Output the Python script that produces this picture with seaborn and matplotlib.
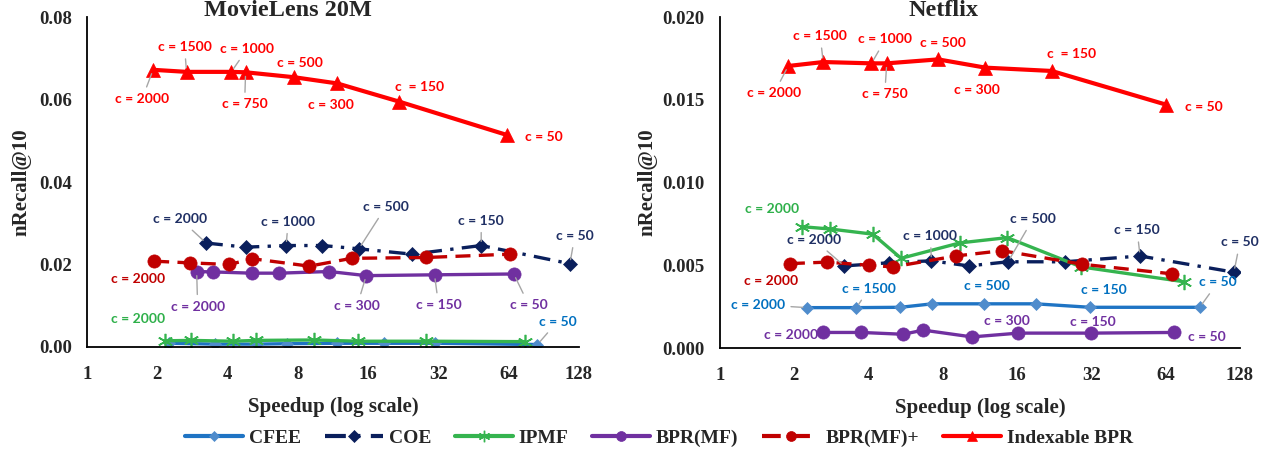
import matplotlib
matplotlib.use("Agg")
import matplotlib.pyplot as plt
import seaborn as sns
from matplotlib.lines import Line2D
from matplotlib.ticker import FixedLocator, FixedFormatter, NullLocator

methods = ["CFEE", "COE", "IPMF", "BPR(MF)", "BPR(MF)+", "Indexable BPR"]

# ---- MovieLens 20M (speedup, nRecall@10) ----
ml_cfee_x = [2.25, 3.54, 5.35, 7.2, 11.8, 18.8, 31.0, 85.0]
ml_cfee_y = [0.0009, 0.0007, 0.0007, 0.0008, 0.0009, 0.0009, 0.0009, 0.0006]
ml_coe_x = [3.24, 4.78, 7.13, 10.2, 14.6, 24.7, 48.8, 117.0]
ml_coe_y = [0.0252, 0.0242, 0.0246, 0.0246, 0.0238, 0.0225, 0.0246, 0.0202]
ml_ipmf_x = [2.16, 2.79, 4.23, 5.3, 9.4, 14.5, 28.4, 74.8]
ml_ipmf_y = [0.0015, 0.0016, 0.0014, 0.0016, 0.0017, 0.0014, 0.0014, 0.0013]
ml_bpr_x = [2.95, 3.47, 5.07, 6.66, 10.9, 15.7, 30.8, 67.3]
ml_bpr_y = [0.0183, 0.0182, 0.0179, 0.0179, 0.0183, 0.0173, 0.0175, 0.0177]
ml_bprp_x = [1.94, 2.75, 4.07, 5.11, 8.96, 13.6, 28.4, 64.7]
ml_bprp_y = [0.0208, 0.0204, 0.0200, 0.0214, 0.0196, 0.0215, 0.0217, 0.0225]
ml_ibpr_x = [1.92, 2.67, 4.15, 4.78, 7.72, 11.8, 21.7, 62.9]
ml_ibpr_y = [0.0672, 0.0667, 0.0667, 0.0666, 0.0654, 0.0639, 0.0595, 0.0514]

# ---- Netflix ----
nf_cfee_x = [2.25, 3.57, 5.38, 7.25, 11.8, 19.0, 31.6, 88.0]
nf_cfee_y = [0.00244, 0.00244, 0.00246, 0.00267, 0.00267, 0.00267, 0.00246, 0.00246]
nf_coe_x = [3.19, 4.84, 7.19, 10.2, 14.7, 25.0, 50.4, 121.0]
nf_coe_y = [0.00496, 0.00515, 0.00527, 0.00496, 0.00521, 0.00521, 0.00556, 0.00458]
nf_ipmf_x = [2.15, 2.8, 4.16, 5.42, 9.37, 14.6, 29.1, 76.3]
nf_ipmf_y = [0.00733, 0.00719, 0.00688, 0.00542, 0.00635, 0.00667, 0.0049, 0.0040]
nf_bpr_x = [2.62, 3.74, 5.52, 6.67, 10.5, 16.2, 31.8, 69.5]
nf_bpr_y = [0.00094, 0.00094, 0.00083, 0.00108, 0.00067, 0.0009, 0.0009, 0.00094]
nf_bprp_x = [1.92, 2.71, 4.03, 5.02, 9.02, 13.9, 29.4, 68.1]
nf_bprp_y = [0.0051, 0.00519, 0.0050, 0.0049, 0.00556, 0.00588, 0.00506, 0.00448]
nf_ibpr_x = [1.89, 2.62, 4.11, 4.74, 7.66, 11.9, 22.1, 64.4]
nf_ibpr_y = [0.01704, 0.01728, 0.0172, 0.0172, 0.01744, 0.01694, 0.01674, 0.0147]

x_ticks = [1, 2, 4, 8, 16, 32, 64, 128]
ml_y_ticks = [0.00, 0.02, 0.04, 0.06, 0.08]
nf_y_ticks = [0.000, 0.005, 0.010, 0.015, 0.020]

# line styles per method
styles = {
    "CFEE": dict(color="#1f74c4", marker="D", ms=6.5, mfc="#4f8ccc", lw=2.4, ls="-"),
    "COE": dict(color="#0a1f5c", marker="D", ms=7.5, mfc="#0a1f5c", lw=2.4, ls=(0, (5, 2.5, 1, 2.5))),
    "IPMF": dict(color="#35b44f", marker=(6, 2, 0), ms=11, mfc="#35b44f", lw=2.4, ls="-"),
    "BPR(MF)": dict(color="#7030a0", marker="o", ms=9.5, mfc="#7030a0", lw=2.4, ls="-"),
    "BPR(MF)+": dict(color="#c00000", marker="o", ms=9.5, mfc="#c00000", lw=2.4, ls=(0, (4.5, 2.5))),
    "Indexable BPR": dict(color="#ff0000", marker="^", ms=10, mfc="#ff0000", lw=3.0, ls="-"),
}
label_colors = {
    "CFEE": "#0070c0", "COE": "#1f2f64", "IPMF": "#2eb04a",
    "BPR(MF)": "#7030a0", "BPR(MF)+": "#c00000", "Indexable BPR": "#ff0000",
}

# annotations: (method, point index, text, dx px, dy px, leader line)
ml_notes = [
    ("Indexable BPR", 0, "c = 2000", -11, -29, True),
    ("Indexable BPR", 1, "c = 1500", -2, 25, True),
    ("Indexable BPR", 2, "c = 1000", 16, 23, True),
    ("Indexable BPR", 3, "c = 750", -1, -32, True),
    ("Indexable BPR", 4, "c = 500", 6, 14, False),
    ("Indexable BPR", 5, "c = 300", -6, -22, False),
    ("Indexable BPR", 6, "c  = 150", 21, 15, False),
    ("Indexable BPR", 7, "c = 50", 37, -2, False),
    ("COE", 0, "c = 2000", -26, 24, True),
    ("COE", 2, "c = 1000", 2, 24, True),
    ("COE", 4, "c = 500", 27, 42, True),
    ("COE", 6, "c = 150", 0, 25, True),
    ("COE", 7, "c = 50", 5, 28, True),
    ("BPR(MF)+", 0, "c = 2000", -16, -18, False),
    ("BPR(MF)", 0, "c = 2000", 1, -35, True),
    ("BPR(MF)", 5, "c = 300", -9, -30, True),
    ("BPR(MF)", 6, "c = 150", 4, -30, True),
    ("BPR(MF)", 7, "c = 50", 15, -31, True),
    ("IPMF", 0, "c = 2000", -27, 22, False),
    ("CFEE", 7, "c = 50", 20, 23, True),
]
nf_notes = [
    ("Indexable BPR", 0, "c = 2000", -14, -27, True),
    ("Indexable BPR", 1, "c = 1500", -3, 26, True),
    ("Indexable BPR", 2, "c = 1000", 14, 24, True),
    ("Indexable BPR", 3, "c = 750", -2, -31, True),
    ("Indexable BPR", 4, "c = 500", 5, 16, False),
    ("Indexable BPR", 5, "c = 300", -8, -22, False),
    ("Indexable BPR", 6, "c  = 150", 20, 17, False),
    ("Indexable BPR", 7, "c = 50", 38, -2, False),
    ("IPMF", 0, "c = 2000", -30, 18, False),
    ("COE", 0, "c = 2000", -30, 26, True),
    ("COE", 2, "c = 1000", -1, 25, True),
    ("COE", 4, "c = 500", 25, 43, True),
    ("COE", 6, "c = 150", -3, 26, True),
    ("COE", 7, "c = 50", 6, 30, True),
    ("BPR(MF)+", 0, "c = 2000", -19, -17, False),
    ("CFEE", 0, "c = 2000", -49, 3, True),
    ("CFEE", 1, "c = 1500", 13, 19, True),
    ("CFEE", 4, "c = 500", 2, 18, False),
    ("CFEE", 6, "c = 150", 14, 17, False),
    ("CFEE", 7, "c = 50", 18, 25, True),
    ("BPR(MF)", 0, "c = 2000", -32, -3, False),
    ("BPR(MF)", 5, "c = 300", -11, 12, False),
    ("BPR(MF)", 6, "c = 150", 2, 11, False),
    ("BPR(MF)", 7, "c = 50", 32, -5, False),
]

sns.set_theme(style="white")
plt.rcParams["font.family"] = ["Liberation Serif", "DejaVu Serif"]

fig = plt.figure(figsize=(12.75, 4.61), dpi=100)
ax_ml = fig.add_axes([0.0682, 0.2473, 0.3859, 0.7158])
ax_nf = fig.add_axes([0.5647, 0.2451, 0.4078, 0.7180])


def draw_panel(ax, series, notes, y_ticks, y_fmt, y_max, label_x):
    for name in methods:
        xs, ys = series[name]
        st = styles[name]
        sns.lineplot(x=xs, y=ys, ax=ax, sort=False, estimator=None, legend=False,
                     color=st["color"], linewidth=st["lw"], linestyle=st["ls"],
                     marker=st["marker"], markersize=st["ms"],
                     markerfacecolor=st["mfc"], markeredgecolor=st["mfc"],
                     markeredgewidth=1.2 if name == "IPMF" else 0.5)
    for name, i, txt, dx, dy, leader in notes:
        xs, ys = series[name]
        arrow = dict(arrowstyle="-", color="#a6a6a6", lw=1.0, shrinkA=2, shrinkB=3) if leader else None
        ax.annotate(txt, xy=(xs[i], ys[i]), xytext=(dx, dy), textcoords="offset pixels",
                    ha="center", va="center", color=label_colors[name],
                    fontsize=10, fontweight="bold", family="Lato", arrowprops=arrow)
    ax.set_xscale("log", base=2)
    ax.set_xlim(1, 128)
    ax.set_ylim(0, y_max)
    ax.xaxis.set_major_locator(FixedLocator(x_ticks))
    ax.xaxis.set_major_formatter(FixedFormatter([str(t) for t in x_ticks]))
    ax.xaxis.set_minor_locator(NullLocator())
    ax.set_yticks(y_ticks)
    ax.set_yticklabels([y_fmt.format(t) for t in y_ticks])
    for lab in ax.get_xticklabels() + ax.get_yticklabels():
        lab.set_fontweight("bold")
        lab.set_fontsize(13.5)
    ax.tick_params(axis="both", length=0)
    ax.tick_params(axis="y", pad=11)
    ax.tick_params(axis="x", pad=14)
    for side in ["top", "right"]:
        ax.spines[side].set_visible(False)
    for side in ["left", "bottom"]:
        ax.spines[side].set_color("black")
        ax.spines[side].set_linewidth(1.3)
    ax.set_xlabel("Speedup (log scale)", fontsize=15, fontweight="bold")
    ax.set_ylabel("nRecall@10", fontsize=15, fontweight="bold")
    ax.xaxis.set_label_coords(0.5, -0.152)
    ax.yaxis.set_label_coords(label_x, 0.5)


ml_series = {
    "CFEE": (ml_cfee_x, ml_cfee_y), "COE": (ml_coe_x, ml_coe_y),
    "IPMF": (ml_ipmf_x, ml_ipmf_y), "BPR(MF)": (ml_bpr_x, ml_bpr_y),
    "BPR(MF)+": (ml_bprp_x, ml_bprp_y), "Indexable BPR": (ml_ibpr_x, ml_ibpr_y),
}
nf_series = {
    "CFEE": (nf_cfee_x, nf_cfee_y), "COE": (nf_coe_x, nf_coe_y),
    "IPMF": (nf_ipmf_x, nf_ipmf_y), "BPR(MF)": (nf_bpr_x, nf_bpr_y),
    "BPR(MF)+": (nf_bprp_x, nf_bprp_y), "Indexable BPR": (nf_ibpr_x, nf_ibpr_y),
}

draw_panel(ax_ml, ml_series, ml_notes, ml_y_ticks, "{:.2f}", 0.08, -0.112)
draw_panel(ax_nf, nf_series, nf_notes, nf_y_ticks, "{:.3f}", 0.020, -0.121)

fig.text(288 / 1275, 1 - 16 / 461, "MovieLens 20M", ha="center", va="baseline",
         fontsize=17.5, fontweight="bold")
fig.text(944 / 1275, 1 - 16 / 461, "Netflix", ha="center", va="baseline",
         fontsize=17.5, fontweight="bold")

# legend handles: same styles, smaller markers
handles = []
for name in methods:
    st = styles[name]
    handles.append(Line2D([], [], color=st["color"], lw=3.0, ls=st["ls"],
                          marker=st["marker"], markersize=st["ms"] * 0.75,
                          markerfacecolor=st["mfc"], markeredgecolor=st["mfc"],
                          markeredgewidth=1.0 if name == "IPMF" else 0.5))
fig.legend(handles, methods, loc="center", bbox_to_anchor=(0.517, 0.05), ncol=6,
           frameon=False, handlelength=3.0, columnspacing=1.2, handletextpad=0.3,
           prop=dict(family="Liberation Serif", weight="bold", size=14))

fig.savefig("out.png", dpi=100)
